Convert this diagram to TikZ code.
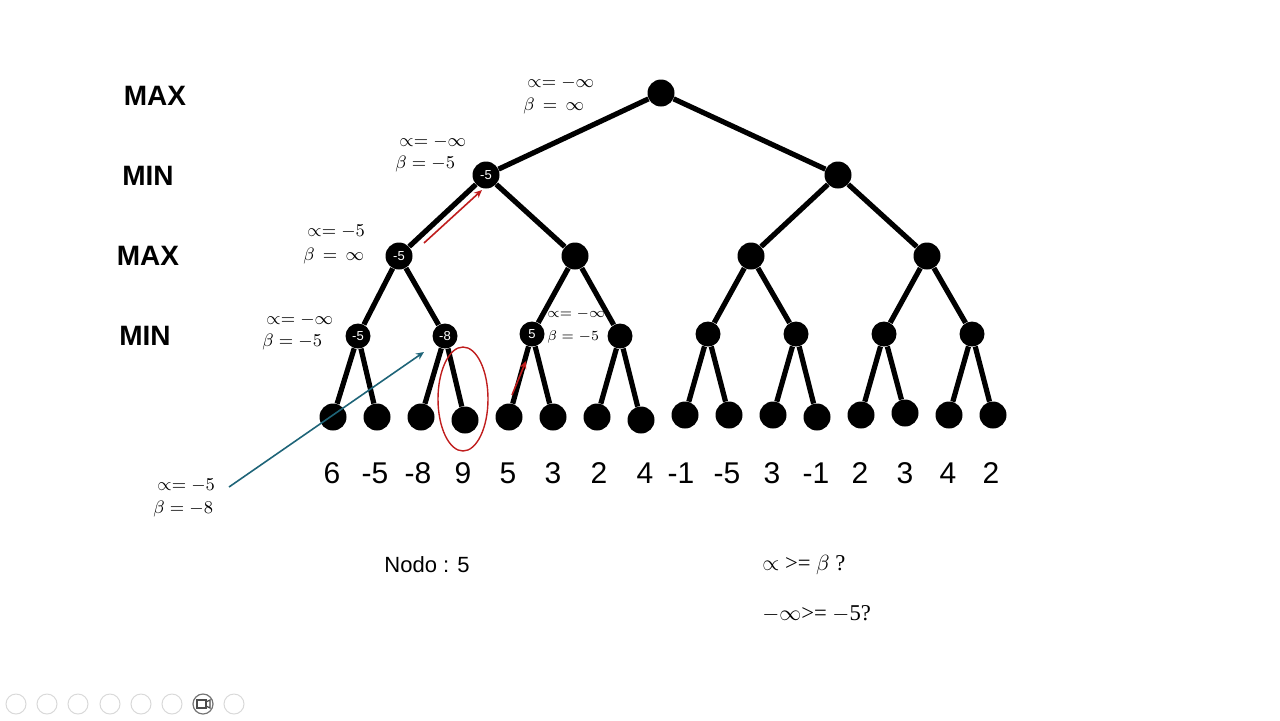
\documentclass[tikz,border=0pt]{standalone}
\usepackage{fontspec}
\setsansfont{Liberation Sans}
\newfontfamily\serifq{Liberation Serif}
\usetikzlibrary{arrows.meta}
\begin{document}
\begin{tikzpicture}[x=0.5pt,y=-0.5pt,
  tnode/.style={circle,fill=black,inner sep=0pt,minimum size=13.5pt,text=white,font=\sffamily\fontsize{6.5}{7}\selectfont},
  leaf/.style={circle,fill=black,inner sep=0pt,minimum size=13.5pt},
  edge/.style={line width=2.6pt},
  lvl/.style={font=\sffamily\bfseries\fontsize{14}{16}\selectfont},
  val/.style={font=\sffamily\fontsize{15}{17}\selectfont},
  ab/.style={font=\fontsize{9}{10}\selectfont,inner sep=0pt},
  abs/.style={font=\fontsize{7}{8}\selectfont,inner sep=0pt},
  redarrow/.style={draw={rgb,255:red,192;green,30;blue,30},line width=0.8pt,-{Stealth[length=4pt,width=3.5pt]}},
  tealarrow/.style={draw={rgb,255:red,30;green,100;blue,120},line width=0.8pt,-{Stealth[length=4pt,width=3.5pt]}},
  qtext/.style={font=\serifq\fontsize{11.3}{13}\selectfont,inner sep=0pt,anchor=west}
]
\useasboundingbox (0,0) rectangle (1280,720);
% level labels
\node[lvl] (L0) at (155,96) {MAX};
\node[lvl] (L1) at (148,176) {MIN};
\node[lvl] (L2) at (148,256) {MAX};
\node[lvl] (L3) at (145,336) {MIN};
% tree nodes
\node[tnode] (r) at (661,93) {};
\node[tnode] (a) at (486,175) {-5};
\node[tnode] (b) at (838,175) {};
\node[tnode] (aa) at (399,256) {-5};
\node[tnode] (ab) at (575,256) {};
\node[tnode] (ba) at (751,256) {};
\node[tnode] (bb) at (927,256) {};
\node[tnode,minimum size=12.5pt] (m1) at (358,336) {-5};
\node[tnode,minimum size=12.5pt] (m2) at (445,336) {-8};
\node[tnode,minimum size=12.5pt] (m3) at (532,334) {5};
\node[tnode,minimum size=12.5pt] (m4) at (620,336) {};
\node[tnode,minimum size=12.5pt] (m5) at (708,334) {};
\node[tnode,minimum size=12.5pt] (m6) at (796,334) {};
\node[tnode,minimum size=12.5pt] (m7) at (884,334) {};
\node[tnode,minimum size=12.5pt] (m8) at (972,334) {};
% leaves
\foreach \i/\x/\y in {1/333/417,2/377/417,3/421/417,4/465/420,5/509/417,6/553/417,7/597/417,8/641/420,9/685/415,10/729/415,11/773/415,12/817/417,13/861/415,14/905/413,15/949/415,16/993/415}
  \node[leaf] (l\i) at (\x,\y) {};
% edges
\draw[edge] (r) -- (a); \draw[edge] (r) -- (b);
\draw[edge] (a) -- (aa); \draw[edge] (a) -- (ab);
\draw[edge] (b) -- (ba); \draw[edge] (b) -- (bb);
\draw[edge] (aa) -- (m1); \draw[edge] (aa) -- (m2);
\draw[edge] (ab) -- (m3); \draw[edge] (ab) -- (m4);
\draw[edge] (ba) -- (m5); \draw[edge] (ba) -- (m6);
\draw[edge] (bb) -- (m7); \draw[edge] (bb) -- (m8);
\draw[edge] (m1) -- (l1); \draw[edge] (m1) -- (l2);
\draw[edge] (m2) -- (l3); \draw[edge] (m2) -- (l4);
\draw[edge] (m3) -- (l5); \draw[edge] (m3) -- (l6);
\draw[edge] (m4) -- (l7); \draw[edge] (m4) -- (l8);
\draw[edge] (m5) -- (l9); \draw[edge] (m5) -- (l10);
\draw[edge] (m6) -- (l11); \draw[edge] (m6) -- (l12);
\draw[edge] (m7) -- (l13); \draw[edge] (m7) -- (l14);
\draw[edge] (m8) -- (l15); \draw[edge] (m8) -- (l16);
% leaf values
\foreach \i/\x/\t in {1/332/6,2/375/-5,3/418/-8,4/463/9,5/508/5,6/553/3,7/599/2,8/645/4,9/681/-1,10/727/-5,11/772/3,12/816/-1,13/860/2,14/905/3,15/948/4,16/991/2}
  \node[val] (v\i) at (\x,473) {\t};
% alpha beta annotations
\node[ab,anchor=west] (ra) at (527,83) {$\propto = -\infty$};
\node[ab,anchor=west] (rb) at (523,106) {$\beta\,=\,\infty$};
\node[ab,anchor=west] (aa1) at (399,142) {$\propto = -\infty$};
\node[ab,anchor=west] (ab1) at (395,164) {$\beta = -5$};
\node[ab,anchor=west] (ba1) at (307,232) {$\propto = -5$};
\node[ab,anchor=west] (bb1) at (303,256) {$\beta\,=\,\infty$};
\node[ab,anchor=west] (ca1) at (266,320) {$\propto = -\infty$};
\node[ab,anchor=west] (cb1) at (262,342) {$\beta = -5$};
\node[abs,anchor=west] (da1) at (547,314) {$\propto = -\infty$};
\node[abs,anchor=west] (db1) at (547,337) {$\beta = -5$};
\node[ab,anchor=west] (ea1) at (157,486) {$\propto = -5$};
\node[ab,anchor=west] (eb1) at (153,509) {$\beta = -8$};
% red marks
\coordinate (ra0) at (424,243);
\coordinate (ra1) at (482,190);
\draw[redarrow] (ra0) -- (ra1);
\coordinate (rb0) at (512,395);
\coordinate (rb1) at (526,361);
\draw[redarrow] (rb0) -- (rb1);
\draw[draw={rgb,255:red,192;green,30;blue,30},line width=0.7pt] (463,399) ellipse [x radius=25, y radius=52];
% teal arrow
\coordinate (t0) at (229,487);
\coordinate (t1) at (424,352);
\draw[tealarrow] (t0) -- (t1);
% bottom texts
\node[font=\sffamily\fontsize{11}{13}\selectfont] (nodo) at (427,565) {Nodo : 5};
\node[qtext] (q1) at (762,565) {$\propto$ >= $\beta$ ?};
\node[qtext] (q2) at (762,614) {$-\infty$>= $-$5?};
% toolbar
\foreach \x in {16,47,78,110,141,172,234}
  \draw[black!15,line width=0.5pt] (\x,704) circle [radius=10];
\draw[black!55,line width=0.6pt] (203,704) circle [radius=10];
\draw[black!70,line width=0.6pt] (197,700) rectangle (206,708);
\draw[black!70,line width=0.6pt] (206,702) -- (210,700) -- (210,708) -- (206,706);
\end{tikzpicture}
\end{document}
